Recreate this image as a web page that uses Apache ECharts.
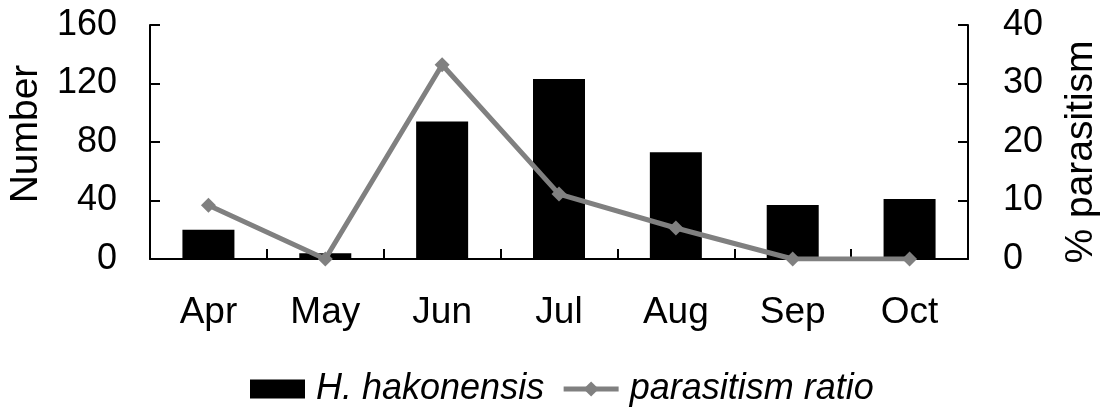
<!DOCTYPE html>
<html>
<head>
<meta charset="utf-8">
<script src="https://cdn.jsdelivr.net/npm/echarts@6/dist/echarts.min.js"></script>
<style>
  html, body { margin: 0; padding: 0; background: #fff; }
  #chart { width: 1102px; height: 408px; }
</style>
</head>
<body>
<div id="chart"></div>
<script>
  // data
  const months = ['Apr', 'May', 'Jun', 'Jul', 'Aug', 'Sep', 'Oct']
  const hakonensis = [20, 4, 94, 123, 73, 37, 41]
  const parasitism = [9.2, 0, 33.2, 11.1, 5.3, 0, 0]
  const leftTicks = { min: 0, max: 160, interval: 40 }
  const rightTicks = { min: 0, max: 40, interval: 10 }

  const font = 'Liberation Sans, Arial, sans-serif'
  const axisLine = { show: true, lineStyle: { color: '#000', width: 2 } }
  const tick = { show: true, inside: true, length: 10, lineStyle: { color: '#000', width: 2 } }

  let myChart = echarts.init(document.getElementById('chart'))
  myChart.setOption({
    animation: false,
    grid: { left: 150, right: 134, top: 25, bottom: 149, outerBoundsMode: 'none' },
    legend: {
      top: 366,
      left: 245,
      itemWidth: 55,
      itemHeight: 19,
      itemGap: 17,
      lineStyle: { width: 5 },
      textStyle: { fontFamily: font, fontSize: 36, fontStyle: 'italic', color: '#000', padding: [0, 0, 0, 6] },
      data: [{ name: 'H. hakonensis', icon: 'rect' }, 'parasitism ratio']
    },
    xAxis: {
      type: 'category',
      data: months,
      axisLine: axisLine,
      axisTick: tick,
      axisLabel: { fontFamily: font, fontSize: 37, color: '#000', margin: 35 }
    },
    yAxis: [
      {
        type: 'value',
        min: leftTicks.min, max: leftTicks.max, interval: leftTicks.interval,
        name: 'Number',
        nameLocation: 'middle',
        nameGap: 104,
        nameTextStyle: { fontFamily: font, fontSize: 39, color: '#000', padding: [0, 0, 0, 16] },
        axisLine: axisLine,
        axisTick: tick,
        axisLabel: { fontFamily: font, fontSize: 36, color: '#000', margin: 33 },
        splitLine: { show: false }
      },
      {
        type: 'value',
        position: 'right',
        min: rightTicks.min, max: rightTicks.max, interval: rightTicks.interval,
        name: '% parasitism',
        nameLocation: 'middle',
        nameGap: 94,
        nameTextStyle: { fontFamily: font, fontSize: 39, color: '#000', padding: [0, 20, 0, 0] },
        axisLine: axisLine,
        axisTick: tick,
        axisLabel: { fontFamily: font, fontSize: 36, color: '#000', margin: 35 },
        splitLine: { show: false }
      }
    ],
    series: [
      {
        name: 'H. hakonensis',
        type: 'bar',
        data: hakonensis,
        barWidth: 52,
        itemStyle: { color: '#000' }
      },
      {
        name: 'parasitism ratio',
        type: 'line',
        yAxisIndex: 1,
        data: parasitism,
        symbol: 'diamond',
        symbolSize: 15,
        lineStyle: { color: '#808080', width: 5 },
        itemStyle: { color: '#808080' }
      }
    ]
  })
</script>
</body>
</html>
